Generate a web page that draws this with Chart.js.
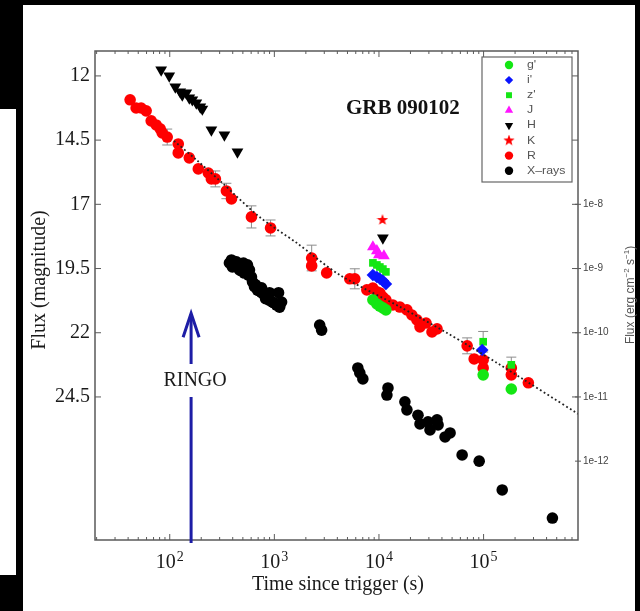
<!DOCTYPE html>
<html>
<head>
<meta charset="utf-8">
<script src="https://cdn.jsdelivr.net/npm/chart.js@4.4.1/dist/chart.umd.min.js"></script>
<style>
  html, body { margin:0; padding:0; background:#000; }
  body { width:640px; height:611px; position:relative; overflow:hidden; }
  #panel { position:absolute; left:23px; top:5px; width:612px; height:606px; background:#fff; }
  #scrap { position:absolute; left:0; top:109px; width:16px; height:466px; background:#fff; }
  #chart { position:absolute; left:0; top:0; }
</style>
</head>
<body>
<div id="panel"></div>
<div id="scrap"></div>
<canvas id="chart" width="640" height="611"></canvas>
<script>
// ---- data (time in s, magnitude / flux) ----
const rTime = [41.8,47.7,53.3,59.5,66.5,74.2,81.1,84.8,94.6,120.6,120.6,153.8,187.5,233.9,250,273,348,389,604,920,2274,2274,3162,5260,5875,7656,8735,9550,10200,10900,11650,13590,15850,18500,20650,23070,24660,28180,32140,35900,69660,81280,99100,99100,184100,184100,267900];
const rMag = [12.93,13.25,13.25,13.36,13.75,13.91,14.06,14.22,14.38,14.65,15.0,15.19,15.62,15.78,16.01,16.01,16.48,16.79,17.49,17.92,19.09,19.40,19.67,19.90,19.90,20.33,20.26,20.41,20.45,20.61,20.72,20.92,21.00,21.11,21.31,21.50,21.77,21.62,21.97,21.85,22.51,23.02,23.06,23.37,23.37,23.64,23.95];
const rErr = [0,0,0,0,0,0,0,0,0.31,0,0,0,0,0,0,0.31,0.3,0,0.43,0.31,0.5,0,0,0,0.39,0,0,0,0,0,0,0,0,0,0,0,0,0,0,0,0.31,0,0,0,0,0,0];

const hTime = [82.8,98.9,113,126,131.8,143.9,153.8,164.4,179.5,196,205,250,333,444,10900];
const hMag = [11.77,12.0,12.43,12.62,12.74,12.66,12.86,12.93,13.05,13.21,13.29,14.10,14.30,14.96,18.31];

const kTime = [10800];
const kMag = [17.61];

const jTime = [8750,9550,9980,11150];
const jMag = [18.66,18.81,18.97,19.01];

const zTime = [8750,9550,10200,10900,11650,99100,184100];
const zMag = [19.28,19.36,19.44,19.52,19.63,22.35,23.25];
const zErr = [0,0,0,0,0,0.4,0.3];

const iTime = [8750,9550,10200,10900,11650,97000];
const iMag = [19.75,19.83,19.90,19.98,20.10,22.67];

const gTime = [8750,9550,10200,10900,11650,99100,184100];
const gMag = [20.72,20.88,20.96,21.03,21.11,23.64,24.19];

const xrTime = [372,389,397,415,434,444,464,484,495,507,517,541,553,566,578,604,618,646,661,690,721,754,754,805,824,861,900,900,962,1005,1050,1097,1122,1172,2712,2831,6280,6560,7015,11910,12190,17700,18500,23600,24660,29430,30760,35900,36730,42850,47860,62370,90780,150700,455000];
const xrFlux = [1.22e-9,1.36e-9,1.06e-9,1.18e-9,1.27e-9,1.06e-9,9.5e-10,9.2e-10,1.02e-9,1.22e-9,8.5e-10,1.02e-9,1.14e-9,7.9e-10,9.5e-10,7.4e-10,6.2e-10,5.2e-10,5.6e-10,4.6e-10,4.5e-10,4.2e-10,5.0e-10,3.9e-10,3.4e-10,3.6e-10,3.2e-10,4.2e-10,3.0e-10,2.9e-10,2.7e-10,4.2e-10,2.5e-10,3.0e-10,1.32e-10,1.1e-10,2.83e-11,2.37e-11,1.91e-11,1.07e-11,1.38e-11,8.4e-12,6.3e-12,5.2e-12,3.8e-12,4.1e-12,3.06e-12,4.4e-12,3.66e-12,2.38e-12,2.75e-12,1.25e-12,1.0e-12,3.56e-13,1.30e-13];

// dotted power-law fit through R
const fitTime = [110,180,318,721,1633,4217,15850,44770,134900,800000];
const fitMag = [14.53,15.27,16.17,17.49,18.50,19.75,20.99,22.01,23.18,25.16];

// axes
const timeTicks = [1e2,1e3,1e4,1e5];
const magTicks = [12,14.5,17,19.5,22,24.5];
const fluxTicks = [1e-8,1e-9,1e-10,1e-11,1e-12];
const fluxTickLabels = ['1e-8','1e-9','1e-10','1e-11','1e-12'];
const timeMin = 19.3, timeMax = 799000;
const magTop = 11.03, magBottom = 30.07;
// right axis: 1e-8 erg/cm2/s sits at mag 17, one decade = 2.5 mag
function magToFlux(m) { return 1e-8 * Math.pow(10, -(m - 17) / 2.5); }

const ringoTime = 160;
const ringoTipMag = 21.2;

function pts(xs, ys) { return xs.map(function (x, i) { return { x: x, y: ys[i] }; }); }

function starImage(size, color) {
    var c = document.createElement('canvas');
    c.width = c.height = size;
    var g = c.getContext('2d');
    g.fillStyle = color;
    g.beginPath();
    for (var k = 0; k < 10; k++) {
        var r = k % 2 ? size * 0.2 : size * 0.5;
        var a = -Math.PI / 2 + k * Math.PI / 5;
        g.lineTo(size / 2 + r * Math.cos(a), size / 2 + r * Math.sin(a));
    }
    g.closePath();
    g.fill();
    return c;
}

const GREEN = '#14e614', BLUE = '#0a14ff', MAGENTA = '#ff14ff', RED = '#ff0000';
const SERIF = "'Liberation Serif', 'Times New Roman', serif";
const SANS = "'Liberation Sans', Arial, sans-serif";

function sc(label, xs, ys, color, style, extra) {
    var d = {
        label: label, data: pts(xs, ys), showLine: false,
        backgroundColor: color, borderColor: color,
        pointStyle: style, pointRadius: 5.8, pointHoverRadius: 5.8, pointBorderWidth: 0,
        yAxisID: 'y', order: 1
    };
    for (var k in extra) d[k] = extra[k];
    return d;
}

const datasets = [
    sc("g'", gTime, gMag, GREEN, 'circle', {}),
    sc("i'", iTime, iMag, BLUE, 'rectRot', { pointRadius: 6.3 }),
    sc("z'", zTime, zMag, GREEN, 'rect', { errs: zErr, pointRadius: 5.4 }),
    sc('J', jTime, jMag, MAGENTA, 'triangle', { pointRadius: 6.8 }),
    sc('H', hTime, hMag, '#000', 'triangle', { pointRotation: 180, pointRadius: 6.8 }),
    sc('K', kTime, kMag, RED, starImage(12, RED), {}),
    sc('R', rTime, rMag, RED, 'circle', { errs: rErr }),
    sc('X\u2013rays', xrTime, xrFlux, '#000', 'circle', { yAxisID: 'y2' }),
    {
        label: 'fit', type: 'line', data: pts(fitTime, fitMag), showLine: true,
        pointRadius: 0, borderColor: '#222', borderWidth: 1.8, borderDash: [1.8, 2.6],
        tension: 0.3, fill: false, yAxisID: 'y', order: 0, noLegend: true
    }
];

function txt(ctx, s, x, y, font, color, align, base, sx, rot) {
    ctx.save();
    ctx.translate(x, y);
    if (rot) ctx.rotate(rot);
    if (sx) ctx.scale(sx, 1);
    ctx.font = font;
    ctx.fillStyle = color;
    ctx.textAlign = align || 'left';
    ctx.textBaseline = base || 'alphabetic';
    ctx.fillText(s, 0, 0);
    ctx.restore();
}
function seg(ctx, x1, y1, x2, y2) { ctx.beginPath(); ctx.moveTo(x1, y1); ctx.lineTo(x2, y2); ctx.stroke(); }

const decor = {
    id: 'decor',
    beforeDatasetsDraw: function (chart) {
        var ctx = chart.ctx;
        chart.data.datasets.forEach(function (ds, di) {
            if (!ds.errs) return;
            var meta = chart.getDatasetMeta(di);
            ctx.save();
            ctx.strokeStyle = '#8c8c8c';
            ctx.lineWidth = 1;
            ds.data.forEach(function (p, i) {
                var e = ds.errs[i];
                if (!e) return;
                var px = meta.xScale.getPixelForValue(p.x);
                var y1 = meta.yScale.getPixelForValue(p.y - e);
                var y2 = meta.yScale.getPixelForValue(p.y + e);
                seg(ctx, px, y1, px, y2);
                seg(ctx, px - 5, y1, px + 5, y1);
                seg(ctx, px - 5, y2, px + 5, y2);
            });
            ctx.restore();
        });
    },
    afterDatasetsDraw: function (chart) {
        var ctx = chart.ctx, ca = chart.chartArea;
        var xs = chart.scales.x, ys = chart.scales.y, y2 = chart.scales.y2;
        ctx.save();

        // frame
        ctx.strokeStyle = '#5a5a5a';
        ctx.lineWidth = 1.5;
        ctx.strokeRect(ca.left, ca.top, ca.right - ca.left, ca.bottom - ca.top);

        // x ticks (log, major + minor)
        ctx.lineWidth = 1;
        for (var dec = 10; dec <= 1e5; dec *= 10) {
            for (var m = 1; m <= 9; m++) {
                var v = dec * m;
                if (v < timeMin || v > timeMax) continue;
                var px = xs.getPixelForValue(v);
                var len = m === 1 ? 6 : 3;
                seg(ctx, px, ca.bottom, px, ca.bottom - len);
                seg(ctx, px, ca.top, px, ca.top + len);
            }
        }
        // x tick labels 10^n
        timeTicks.forEach(function (v) {
            var px = xs.getPixelForValue(v);
            var ex = String(Math.round(Math.log10(v)));
            ctx.font = '20px ' + SERIF;
            var w1 = ctx.measureText('10').width;
            ctx.font = '14px ' + SERIF;
            var w2 = ctx.measureText(ex).width;
            var x0 = px - (w1 + w2 + 1) / 2;
            txt(ctx, '10', x0, 568, '20px ' + SERIF, '#1a1a1a');
            txt(ctx, ex, x0 + w1 + 1, 561, '14px ' + SERIF, '#1a1a1a');
        });

        // left magnitude ticks
        magTicks.forEach(function (v) {
            var py = ys.getPixelForValue(v);
            seg(ctx, ca.left, py, ca.left + 6, py);
            seg(ctx, ca.right, py, ca.right - 6, py);
            txt(ctx, String(v), ca.left - 5, py, '20px ' + SERIF, '#1a1a1a', 'right', 'middle');
        });

        // right flux ticks
        fluxTicks.forEach(function (v, i) {
            var py = y2.getPixelForValue(v);
            seg(ctx, ca.right - 3, py, ca.right + 3, py);
            txt(ctx, fluxTickLabels[i], ca.right + 5, py, '10px ' + SANS, '#444', 'left', 'middle');
        });

        // axis titles
        txt(ctx, 'Flux (magnitude)', 40, 280, '20px ' + SERIF, '#1a1a1a', 'center', 'middle', 0, -Math.PI / 2);
        txt(ctx, 'Time since trigger (s)', 338, 590, '20px ' + SERIF, '#1a1a1a', 'center');

        // right title with superscripts, rotated
        ctx.save();
        ctx.translate(631, 295);
        ctx.rotate(-Math.PI / 2);
        var parts = [['Flux (erg cm', 0], ['\u22122', 1], [' s', 0], ['\u22121', 1], [')', 0]];
        var tot = 0;
        parts.forEach(function (p) { ctx.font = (p[1] ? '8px ' : '12px ') + SANS; tot += ctx.measureText(p[0]).width; });
        var cx = -tot / 2;
        ctx.fillStyle = '#555';
        ctx.textBaseline = 'middle';
        parts.forEach(function (p) {
            ctx.font = (p[1] ? '8px ' : '12px ') + SANS;
            ctx.fillText(p[0], cx, p[1] ? -4 : 0);
            cx += ctx.measureText(p[0]).width;
        });
        ctx.restore();

        // GRB label
        txt(ctx, 'GRB 090102', 346, 114, 'bold 21px ' + SERIF, '#111');

        // RINGO arrow
        var ax = xs.getPixelForValue(ringoTime);
        var tip = ys.getPixelForValue(ringoTipMag);
        var textY = 381;
        ctx.strokeStyle = '#1d1da6';
        ctx.lineWidth = 3;
        ctx.lineJoin = 'miter';
        seg(ctx, ax, ca.bottom + 3, ax, textY + 16);
        seg(ctx, ax, textY - 17, ax, tip + 2);
        ctx.beginPath();
        ctx.moveTo(ax - 8, tip + 25);
        ctx.lineTo(ax, tip + 1);
        ctx.lineTo(ax + 8, tip + 25);
        ctx.stroke();
        txt(ctx, 'RINGO', ax + 4, textY, '20px ' + SERIF, '#1a1a1a', 'center', 'middle');

        // legend box inside plot
        var lx = 482, ly = 57, lw = 90, lh = 125;
        ctx.fillStyle = '#fff';
        ctx.fillRect(lx, ly, lw, lh);
        ctx.strokeStyle = '#666';
        ctx.lineWidth = 1.2;
        ctx.strokeRect(lx, ly, lw, lh);
        var row = 0;
        chart.data.datasets.forEach(function (ds) {
            if (ds.noLegend) return;
            var yy = 65 + row * 15.1;
            ctx.fillStyle = ds.backgroundColor;
            ctx.strokeStyle = ds.backgroundColor;
            Chart.helpers.drawPoint(ctx, {
                pointStyle: ds.pointStyle, rotation: ds.pointRotation || 0,
                radius: ds.pointStyle === 'triangle' ? 4.8 : 4.2, borderWidth: 0
            }, 509, yy);
            txt(ctx, ds.label, 527, yy, '11px ' + SANS, '#555', 'left', 'middle', 1.12);
            row++;
        });

        ctx.restore();
    }
};

new Chart(document.getElementById('chart'), {
    type: 'scatter',
    data: { datasets: datasets },
    options: {
        responsive: false,
        animation: false,
        layout: { padding: { left: 95, right: 62, top: 51, bottom: 71 } },
        plugins: { legend: { display: false }, tooltip: { enabled: false } },
        scales: {
            x: { type: 'logarithmic', display: false, min: timeMin, max: timeMax },
            y: { type: 'linear', display: false, reverse: true, min: magTop, max: magBottom },
            y2: { type: 'logarithmic', display: false, position: 'right', min: magToFlux(magBottom), max: magToFlux(magTop) }
        }
    },
    plugins: [decor]
});
</script>
</body>
</html>
